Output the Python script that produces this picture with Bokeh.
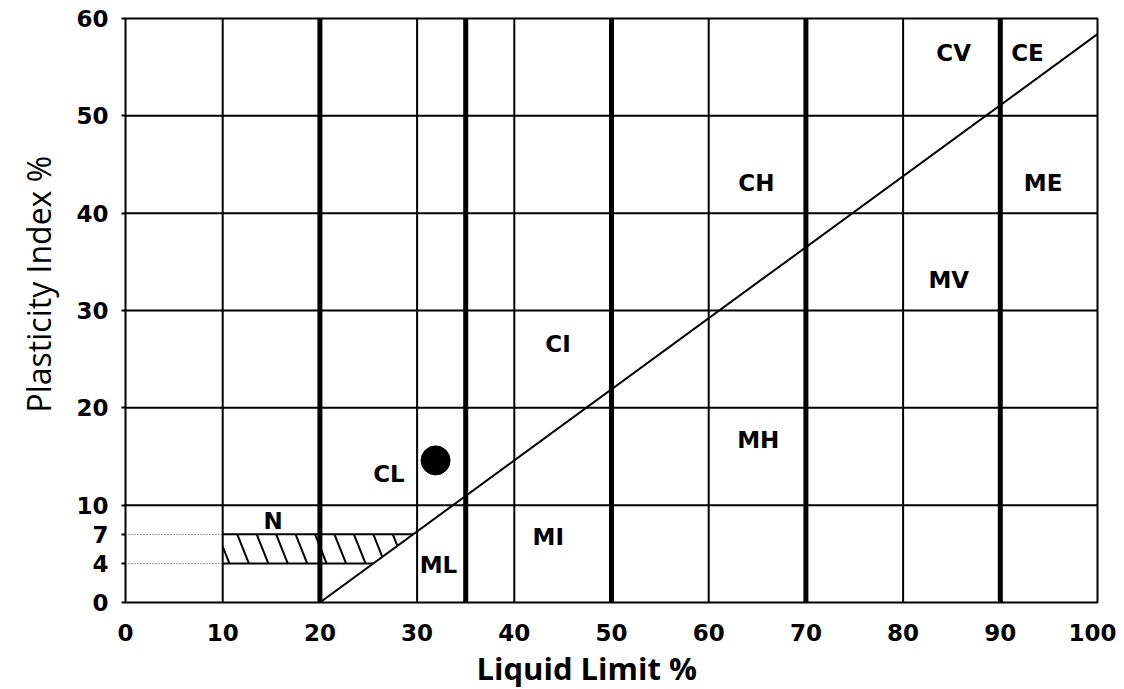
import numpy as np
from bokeh.plotting import figure
from bokeh.models import Range1d, FixedTicker, Title
from bokeh.core.properties import value
from bokeh.embed import file_html
from bokeh.resources import INLINE

# ---- data ----
x_ticks = [0, 10, 20, 30, 40, 50, 60, 70, 80, 90, 100]
y_ticks = [0, 4, 7, 10, 20, 30, 40, 50, 60]
thin_x = [10, 30, 40, 60, 80]
thick_x = [20, 35, 50, 70, 90]
grid_y = [10, 20, 30, 40, 50]
dotted_y = [4, 7]
a_line_start = 20
a_line_slope = 0.73
zone_labels = ["CV", "CE", "CH", "ME", "MV", "CI", "MH", "CL", "MI", "ML", "N"]
zone_x = [85.2, 92.8, 64.9, 94.4, 84.7, 44.5, 65.1, 27.1, 43.5, 32.2, 15.2]
zone_y = [56.5, 56.5, 43.1, 43.1, 33.1, 26.6, 16.7, 13.2, 6.7, 3.9, 8.4]
sample_ll = [31.9]
sample_pi = [14.6]
hatch_low = 4
hatch_high = 7
hatch_left = 10
hatch_tops = [9.5, 11.5, 13.5, 15.5, 17.5, 19.5, 21.5, 23.5, 25.5, 27.5]
hatch_shift = 1.2
x_title = "Liquid Limit %"
y_title = "Plasticity Index %"

X0, X1, Y0, Y1 = 0, 100, 0, 60

p = figure(width=1116, height=689, output_backend="svg", toolbar_location=None,
           x_range=Range1d(X0, X1), y_range=Range1d(Y0, Y1),
           min_border_left=124, min_border_right=19, min_border_top=18, min_border_bottom=86)
p.background_fill_color = "white"
p.border_fill_color = "white"
p.outline_line_color = "black"
p.outline_line_width = 2
p.outline_line_alpha = 1
p.xgrid.grid_line_color = None
p.ygrid.grid_line_color = None

for ax, ticks in ((p.xaxis[0], x_ticks), (p.yaxis[0], y_ticks)):
    ax.ticker = FixedTicker(ticks=ticks)
    ax.axis_line_color = None
    ax.minor_tick_line_color = None
    ax.major_tick_in = 0
    ax.major_tick_line_color = "black"
    ax.major_tick_line_width = 2
    ax.major_label_text_font = "DejaVu Sans"
    ax.major_label_text_font_size = "23px"
    ax.major_label_text_font_style = "bold"
    ax.major_label_text_color = "black"
p.xaxis.major_tick_out = 0
p.yaxis.major_tick_out = 4
p.xaxis.major_label_standoff = 21
p.yaxis.major_label_standoff = 13

# axis titles (slightly off-centre, as in the original)
p.add_layout(Title(text=x_title, align="left", offset=351, standoff=2,
                   text_font="Open Sans", text_font_style="bold", text_font_size="31px",
                   text_color="black"), "below")
p.add_layout(Title(text=y_title, align="left", offset=190, standoff=28,
                   text_font="Open Sans", text_font_style="normal", text_font_size="32px",
                   text_color="black"), "left")

# grid lines
p.segment(x0=thin_x, y0=[Y0] * len(thin_x), x1=thin_x, y1=[Y1] * len(thin_x),
          line_color="black", line_width=2)
p.segment(x0=[X0] * len(grid_y), y0=grid_y, x1=[X1] * len(grid_y), y1=grid_y,
          line_color="black", line_width=2)
p.segment(x0=thick_x, y0=[Y0] * len(thick_x), x1=thick_x, y1=[Y1] * len(thick_x),
          line_color="black", line_width=5)
p.segment(x0=[X0] * len(dotted_y), y0=dotted_y, x1=[hatch_left] * len(dotted_y), y1=dotted_y,
          line_color="#333333", line_width=1, line_dash="1 2")

# A-line
def a_line_x(pi):
    return a_line_start + pi / a_line_slope

p.line(x=[a_line_start, X1], y=[0, a_line_slope * (X1 - a_line_start)],
       line_color="black", line_width=2)

# hatched band
p.segment(x0=[hatch_left, hatch_left], y0=[hatch_high, hatch_low],
          x1=[a_line_x(hatch_high), a_line_x(hatch_low)], y1=[hatch_high, hatch_low],
          line_color="black", line_width=2)
h = hatch_high - hatch_low
hx0, hy0, hx1, hy1 = [], [], [], []
for a in hatch_tops:
    t0 = max(0.0, (hatch_left - a) / hatch_shift) if a < hatch_left else 0.0
    t1 = min(1.0, (a_line_start + hatch_high / a_line_slope - a) / (hatch_shift + h / a_line_slope))
    if t1 > t0:
        hx0.append(a + hatch_shift * t0); hy0.append(hatch_high - h * t0)
        hx1.append(a + hatch_shift * t1); hy1.append(hatch_high - h * t1)
p.segment(x0=hx0, y0=hy0, x1=hx1, y1=hy1, line_color="black", line_width=2)

# sample point
p.scatter(x=sample_ll, y=sample_pi, size=29, marker="circle", fill_color="black", line_color="black")

# zone labels
p.text(x=zone_x, y=zone_y, text=zone_labels, text_align="center", text_baseline="middle",
       text_font=value("DejaVu Sans"), text_font_style="bold", text_font_size="23px",
       text_color="black")

open("out.html", "w").write(file_html(p, INLINE))
